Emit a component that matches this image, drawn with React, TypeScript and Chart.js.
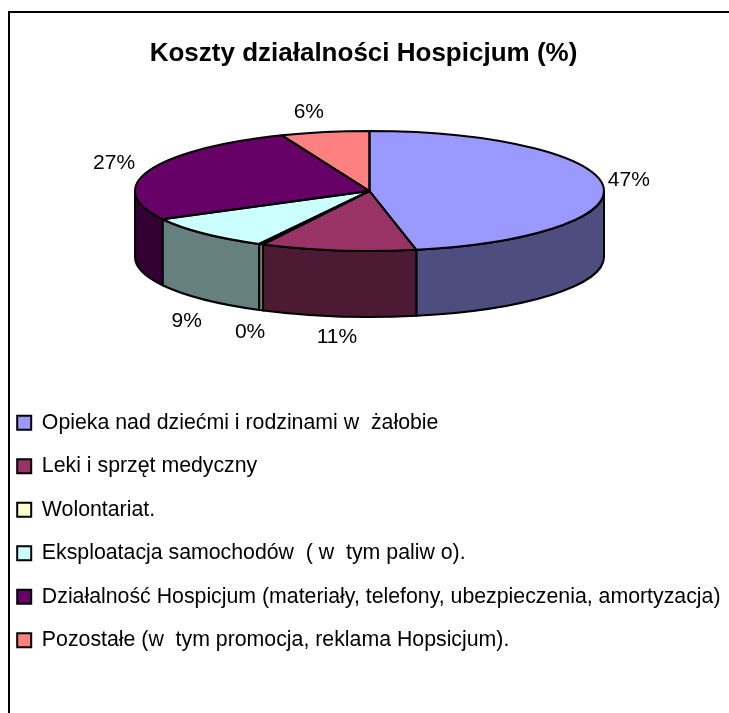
import React, { useEffect, useRef } from "react";
import { Chart, registerables } from "chart.js";

Chart.register(...registerables);

const chartTitle = "Koszty działalności Hospicjum (%)";
const categories = [
  "Opieka nad dziećmi i rodzinami w  żałobie",
  "Leki i sprzęt medyczny",
  "Wolontariat.",
  "Eksploatacja samochodów  ( w  tym paliw o).",
  "Działalność Hospicjum (materiały, telefony, ubezpieczenia, amortyzacja)",
  "Pozostałe (w  tym promocja, reklama Hopsicjum).",
];
const shares = [46.8, 10.7, 0.3, 9.4, 26.7, 6.1];
const topColors = ["#9999FF", "#993366", "#FFFFCC", "#CCFFFF", "#660066", "#FF8080"];
const sideColors = ["#4D4D80", "#4D1A33", "#808066", "#668080", "#330033", "#804040"];
const labelOffsets = [
  [26, -5],
  [-1, 87],
  [-11, 88],
  [-17, 88],
  [-35, -7],
  [-16, -20],
];

const FONT = "'Liberation Sans', Arial, sans-serif";
const CX = 369.5;
const CY = 191;
const RX = 234.5;
const RY = 60;
const DEPTH = 66;

const pie3d = {
  id: "pie3d",
  afterLayout(chart: any) {
    const lg = chart.legend;
    if (lg) {
      lg.left = -5;
      lg.right = 729;
      lg.top = 390;
      lg.bottom = 700;
    }
  },
  beforeDatasetsDraw(chart: any) {
    const ctx = chart.ctx;
    const arcs = chart.getDatasetMeta(0).data;
    ctx.save();
    ctx.lineWidth = 2;
    ctx.strokeStyle = "#000";
    arcs.forEach((el: any, i: number) => {
      const a0 = Math.max(el.startAngle, 0);
      const a1 = Math.min(el.endAngle, Math.PI);
      if (a1 <= a0) return;
      ctx.beginPath();
      ctx.ellipse(CX, CY, RX, RY, 0, a0, a1);
      ctx.ellipse(CX, CY + DEPTH, RX, RY, 0, a1, a0, true);
      ctx.closePath();
      ctx.fillStyle = sideColors[i];
      ctx.fill();
      ctx.stroke();
    });
    ctx.restore();
    const first = arcs[0];
    ctx.save();
    ctx.translate(CX, CY);
    ctx.scale(RX / first.outerRadius, RY / first.outerRadius);
    ctx.translate(-first.x, -first.y);
  },
  afterDatasetsDraw(chart: any) {
    const ctx = chart.ctx;
    ctx.restore();
    const arcs = chart.getDatasetMeta(0).data;
    ctx.save();
    ctx.lineWidth = 2;
    ctx.strokeStyle = "#000";
    ctx.lineJoin = "round";
    arcs.forEach((el: any) => {
      ctx.beginPath();
      ctx.moveTo(CX, CY);
      ctx.ellipse(CX, CY, RX, RY, 0, el.startAngle, el.endAngle);
      ctx.closePath();
      ctx.stroke();
    });
    ctx.fillStyle = "#000";
    ctx.font = `21px ${FONT}`;
    ctx.textAlign = "center";
    ctx.textBaseline = "middle";
    arcs.forEach((el: any, i: number) => {
      const mid = (el.startAngle + el.endAngle) / 2;
      const x = CX + RX * Math.cos(mid) + labelOffsets[i][0];
      const y = CY + RY * Math.sin(mid) + labelOffsets[i][1];
      ctx.fillText(`${Math.round(shares[i])}%`, x, y);
    });
    ctx.restore();
  },
};

export default function App() {
  const ref = useRef<HTMLCanvasElement>(null);
  useEffect(() => {
    document.body.style.margin = "0";
    document.body.style.background = "#fff";
    const chart = new Chart(ref.current as HTMLCanvasElement, {
      type: "pie",
      data: {
        labels: categories,
        datasets: [
          {
            data: shares,
            backgroundColor: topColors,
            borderWidth: 0,
            clip: false,
          } as any,
        ],
      },
      options: {
        responsive: false,
        animation: false,
        events: [],
        layout: { padding: { left: 128, right: 130, top: 0, bottom: 100 } },
        plugins: {
          title: {
            display: true,
            text: chartTitle,
            color: "#000",
            font: { family: FONT, size: 26, weight: "bold" },
            padding: { top: 38, bottom: 10 },
          },
          tooltip: { enabled: false },
          legend: {
            display: true,
            position: "chartArea",
            align: "start",
            labels: {
              boxWidth: 14,
              boxHeight: 14,
              padding: 22.2,
              color: "#000",
              font: { family: FONT, size: 21.3 },
              generateLabels: () =>
                categories.map((text, i) => ({
                  text,
                  fillStyle: topColors[i],
                  strokeStyle: "#000",
                  lineWidth: 2,
                  hidden: false,
                  index: i,
                })),
            },
          },
        },
      } as any,
      plugins: [pie3d],
    });
    return () => chart.destroy();
  }, []);
  return (
    <div style={{ position: "relative", width: 729, height: 713, overflow: "hidden", background: "#fff" }}>
      <canvas ref={ref} width={729} height={713} style={{ display: "block" }} />
      <div
        style={{
          position: "absolute",
          left: 8,
          top: 11,
          width: 740,
          height: 740,
          border: "2px solid #000",
          pointerEvents: "none",
        }}
      />
    </div>
  );
}
